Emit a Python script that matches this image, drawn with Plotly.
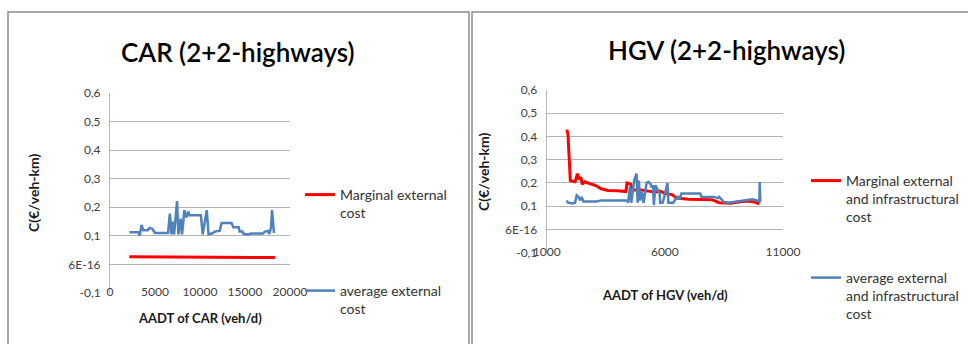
import plotly.graph_objects as go

W, H = 968, 344

# ---------------- data ----------------
car_x_avg = [2150, 3150, 3300, 3500, 3700, 4200, 4400, 4700, 5000, 6450, 6650, 6830, 7000, 7130,
             7450, 7600, 7850, 8000, 8150, 8260, 8500, 8700, 8850, 10100, 10300, 10750, 10950,
             11300, 11650, 12200, 12400, 13500, 13700, 14300, 14400, 14700, 14850, 15300, 15700,
             16300, 17000, 17200, 17550, 17700, 17900, 18000, 18220]
car_avg = [0.113, 0.113, 0.100, 0.138, 0.120, 0.120, 0.128, 0.125, 0.110, 0.110, 0.178, 0.105,
           0.150, 0.105, 0.222, 0.105, 0.160, 0.105, 0.150, 0.190, 0.165, 0.185, 0.172, 0.172,
           0.105, 0.190, 0.105, 0.108, 0.115, 0.118, 0.145, 0.145, 0.130, 0.130, 0.115, 0.115,
           0.107, 0.105, 0.108, 0.107, 0.108, 0.115, 0.117, 0.107, 0.130, 0.190, 0.110]
car_x_marg = [2150, 5000, 8000, 11000, 14000, 16000, 18330]
car_marg = [0.027, 0.026, 0.026, 0.025, 0.025, 0.024, 0.024]

hgv_x_marg = [1850, 1900, 2000, 2200, 2300, 2380, 2450, 2500, 2600, 2900, 3100, 3300, 3600,
              4000, 4350, 4400, 4550, 4650, 5000, 5300, 5600, 5800, 6000, 6300, 6500, 7000,
              7500, 8000, 8300, 8800, 9100, 9500, 9800, 10000]
hgv_marg = [0.430, 0.410, 0.210, 0.205, 0.240, 0.215, 0.225, 0.195, 0.205, 0.195, 0.188, 0.175,
            0.168, 0.166, 0.163, 0.200, 0.195, 0.170, 0.170, 0.165, 0.160, 0.165, 0.155, 0.150,
            0.135, 0.130, 0.130, 0.128, 0.115, 0.113, 0.118, 0.122, 0.118, 0.110]
hgv_x_avg = [1850, 1900, 2100, 2200, 2270, 2350, 2420, 2480, 2550, 3100, 3300, 4400, 4450, 4520,
             4580, 4640, 4700, 4800, 4850, 4900, 4950, 5030, 5100, 5225, 5300, 5400, 5450, 5500,
             5535, 5600, 5700, 5780, 5800, 5900, 5950, 6050, 6110, 6150, 6350, 6450, 6550, 6620,
             6700, 7500, 7550, 8100, 8250, 8300, 8400, 8500, 8700, 9000, 9300, 9700, 9900, 10000,
             10015, 10040]
hgv_avg = [0.125, 0.115, 0.112, 0.115, 0.147, 0.140, 0.125, 0.140, 0.120, 0.120, 0.125, 0.125,
           0.115, 0.185, 0.115, 0.160, 0.210, 0.240, 0.115, 0.210, 0.125, 0.160, 0.115, 0.200,
           0.205, 0.195, 0.180, 0.190, 0.105, 0.190, 0.170, 0.155, 0.115, 0.115, 0.130, 0.175,
           0.200, 0.115, 0.115, 0.130, 0.140, 0.130, 0.155, 0.155, 0.140, 0.140, 0.135, 0.140,
           0.130, 0.118, 0.115, 0.120, 0.125, 0.130, 0.125, 0.120, 0.204, 0.120]

y_tickvals = [-0.1, 0.0, 0.1, 0.2, 0.3, 0.4, 0.5, 0.6]
y_ticktext = ["-0,1", "6E-16", "0,1", "0,2", "0,3", "0,4", "0,5", "0,6"]
car_xticks = [0, 5000, 10000, 15000, 20000]
car_xticktext = ["0", "5000", "10000", "15000", "20000"]
hgv_xticks = [1000, 6000, 11000]
hgv_xticktext = ["1000", "6000", "11000"]

RED = "#ff0000"
BLUE = "#4f81bd"
FONT = "Lato"
TXT = "#404040"


def px(x):
    return x / W


def py(y):
    return 1 - y / H


fig = go.Figure()

fig.add_trace(go.Scatter(x=car_x_marg, y=car_marg, mode="lines", name="Marginal external<br>cost",
                         line=dict(color=RED, width=3), xaxis="x", yaxis="y", legend="legend"))
fig.add_trace(go.Scatter(x=car_x_avg, y=car_avg, mode="lines", name="average external<br>cost",
                         line=dict(color=BLUE, width=2.5), xaxis="x", yaxis="y", legend="legend2"))
fig.add_trace(go.Scatter(x=hgv_x_marg, y=hgv_marg, mode="lines",
                         name="Marginal external<br>and infrastructural<br>cost",
                         line=dict(color=RED, width=3), xaxis="x2", yaxis="y2", legend="legend3"))
fig.add_trace(go.Scatter(x=hgv_x_avg, y=hgv_avg, mode="lines",
                         name="average external<br>and infrastructural<br>cost",
                         line=dict(color=BLUE, width=2.5), xaxis="x2", yaxis="y2", legend="legend4"))

grid = "#b4b4b4"
yax = dict(range=[-0.1, 0.6], tickvals=y_tickvals, ticktext=y_ticktext, showgrid=True,
           gridcolor=grid, gridwidth=1, zeroline=False, showline=True, linecolor=grid,
           linewidth=1, ticks="", tickfont=dict(family=FONT, size=12, color=TXT),
           ticklabelstandoff=6, automargin=False)
xax = dict(showgrid=False, zeroline=False, showline=False, ticks="",
           tickfont=dict(family=FONT, size=12, color=TXT), ticklabelstandoff=-10,
           automargin=False)

legend_common = dict(font=dict(family=FONT, size=14, color="#333333"), bgcolor="rgba(0,0,0,0)",
                     borderwidth=0, xanchor="left", yanchor="top", valign="top",
                     itemclick=False, itemdoubleclick=False)

fig.update_layout(
    width=W, height=H, margin=dict(l=0, r=0, t=0, b=0, autoexpand=False),
    paper_bgcolor="white", plot_bgcolor="white", showlegend=True,
    xaxis=dict(domain=[px(110), px(290)], range=[0, 20000], tickvals=car_xticks,
               ticktext=car_xticktext, anchor="y", **xax),
    yaxis=dict(domain=[py(293), py(93)], anchor="x", **yax),
    xaxis2=dict(domain=[px(546.7), px(783)], range=[1000, 11000], tickvals=hgv_xticks,
                ticktext=hgv_xticktext, anchor="y2", **xax),
    yaxis2=dict(domain=[py(252.7), py(90)], anchor="x2", **yax),
    legend=dict(x=px(300), y=py(179), **legend_common),
    legend2=dict(x=px(300), y=py(275), **legend_common),
    legend3=dict(x=px(806), y=py(165), **legend_common),
    legend4=dict(x=px(806), y=py(262), **legend_common),
)

ann = [
    dict(text="CAR (2+2-highways)", x=px(238), y=py(52), size=26, angle=0, weight=600),
    dict(text="HGV (2+2-highways)", x=px(726), y=py(50), size=26, angle=0, weight=600),
    dict(text="AADT of CAR (veh/d)", x=px(200), y=py(318), size=13, angle=0, weight=700),
    dict(text="AADT of HGV (veh/d)", x=px(665), y=py(295), size=13, angle=0, weight=700),
    dict(text="C(€/veh-km)", x=px(33), y=py(193), size=14, angle=-90, weight=700),
    dict(text="C(€/veh-km)", x=px(483), y=py(172), size=14, angle=-90, weight=700),
]
for a in ann:
    fig.add_annotation(text=a["text"], x=a["x"], y=a["y"], xref="paper", yref="paper",
                       showarrow=False, xanchor="center", yanchor="middle", textangle=a["angle"],
                       font=dict(family=FONT, size=a["size"], weight=a["weight"],
                                 color="#000000" if a["size"] > 20 else "#1a1a1a"))

# panel frames
fig.add_shape(type="rect", xref="paper", yref="paper", x0=px(8), x1=px(469), y0=py(360), y1=py(12),
              line=dict(color="#8c8c8c", width=1.5), fillcolor="rgba(0,0,0,0)", layer="below")
fig.add_shape(type="rect", xref="paper", yref="paper", x0=px(472), x1=px(990), y0=py(360), y1=py(12),
              line=dict(color="#8c8c8c", width=1.5), fillcolor="rgba(0,0,0,0)", layer="below")

fig.write_html("out.html")
